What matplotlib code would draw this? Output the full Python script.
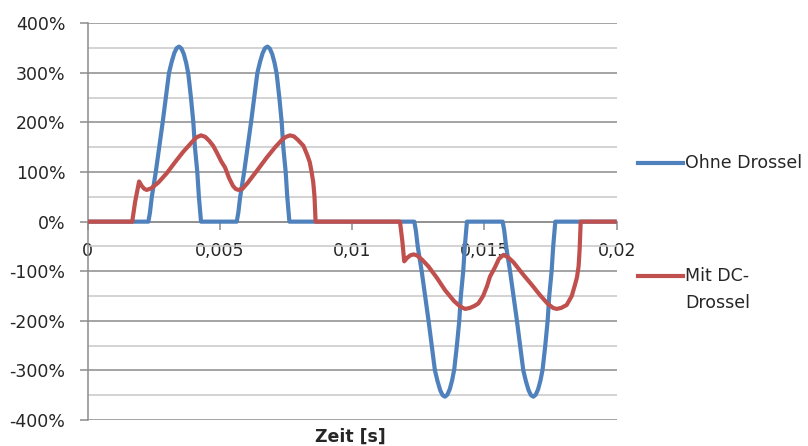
import matplotlib
matplotlib.use("Agg")
import matplotlib.pyplot as plt
from matplotlib.lines import Line2D
from matplotlib.ticker import FuncFormatter, MultipleLocator

# ---- data (time in ms, current in %) ----
blue_t_ms = [0.0, 2.30, 2.36, 2.43, 2.58, 2.71, 2.84, 2.96, 3.08, 3.18, 3.28, 3.37, 3.46, 3.55, 3.64, 3.73, 3.81, 3.91, 4.00, 4.06, 4.15, 4.21, 4.29,
             5.64, 5.70, 5.77, 5.92, 6.05, 6.18, 6.30, 6.42, 6.52, 6.62, 6.71, 6.80, 6.89, 6.98, 7.07, 7.15, 7.25, 7.34, 7.40, 7.49, 7.55, 7.63,
             12.35, 12.41, 12.48, 12.63, 12.76, 12.89, 13.01, 13.13, 13.23, 13.33, 13.42, 13.51, 13.60, 13.69, 13.78, 13.86, 13.96, 14.05, 14.11, 14.20, 14.26, 14.34,
             15.69, 15.75, 15.82, 15.97, 16.10, 16.23, 16.35, 16.47, 16.57, 16.67, 16.76, 16.85, 16.94, 17.03, 17.12, 17.20, 17.30, 17.39, 17.45, 17.54, 17.60, 17.68,
             20.0]
blue_pct = [0, 0, 18, 50, 100, 150, 200, 250, 300, 322, 340, 350, 353, 349, 338, 320, 298, 250, 200, 150, 100, 50, 0,
            0, 18, 50, 100, 150, 200, 250, 300, 322, 340, 350, 353, 349, 338, 320, 298, 250, 200, 150, 100, 50, 0,
            0, -18, -50, -100, -150, -200, -250, -300, -322, -340, -350, -353, -349, -338, -320, -298, -250, -200, -150, -100, -50, 0,
            0, -18, -50, -100, -150, -200, -250, -300, -322, -340, -350, -353, -349, -338, -320, -298, -250, -200, -150, -100, -50, 0,
            0]

red_t_ms = [0.0, 1.69, 1.80, 1.95, 2.05, 2.15, 2.24, 2.40, 2.68, 3.00, 3.31, 3.62, 3.94, 4.12, 4.29, 4.45, 4.60, 4.75, 4.90, 5.05, 5.20,
            5.35, 5.50, 5.60, 5.70, 5.85, 6.05, 6.25, 6.45, 6.77, 7.09, 7.35, 7.50, 7.65, 7.80, 7.95, 8.16, 8.30, 8.40, 8.47, 8.53, 8.58, 8.62,
            11.81, 11.90, 11.97, 12.08, 12.20, 12.32, 12.45, 12.65, 12.88, 13.20, 13.51, 13.85, 14.08, 14.27, 14.45, 14.62, 14.77, 14.95, 15.10,
            15.21, 15.40, 15.55, 15.72, 15.90, 16.10, 16.47, 16.80, 17.10, 17.40, 17.60, 17.73, 17.90, 18.11, 18.30, 18.42, 18.50, 18.56, 18.60,
            18.64, 20.0]
red_pct = [0, 0, 40, 81, 72, 66, 64, 67, 79, 98, 120, 141, 160, 170, 174, 171, 163, 153, 138, 122, 109,
           88, 72, 66, 64, 66, 78, 92, 106, 129, 150, 165, 171, 174, 172, 165, 153, 135, 120, 100, 80, 50, 0,
           0, -40, -80, -73, -68, -66, -68, -77, -90, -113, -138, -160, -171, -176, -174, -170, -165, -150, -130,
           -111, -92, -75, -67, -72, -82, -107, -128, -148, -166, -174, -176, -174, -168, -150, -128, -112, -90, -55,
           0, 0]

x_ticks = [0, 0.005, 0.01, 0.015, 0.02]
x_tick_labels = ["0", "0,005", "0,01", "0,015", "0,02"]
legend_lines = [["Ohne Drossel"], ["Mit DC-", "Drossel"]]

BLUE = "#4F81BD"
RED = "#C0504D"
TXT = '#262626'

plt.rcParams['font.family'] = ['DejaVu Sans']

W, H = 808, 446
fig = plt.figure(figsize=(W / 100, H / 100), dpi=100)
ax = fig.add_axes([87.5 / W, 1 - 420 / H, (616.7 - 87.5) / W, (420 - 23.3) / H])

blue_t = [t / 1000 for t in blue_t_ms]
red_t = [t / 1000 for t in red_t_ms]

ax.plot(blue_t, blue_pct, color=BLUE, lw=3.0, solid_joinstyle='round', solid_capstyle='butt', zorder=3)
ax.plot(red_t, red_pct, color=RED, lw=3.0, solid_joinstyle='round', solid_capstyle='butt', zorder=4)

ax.set_xlim(0, 0.02)
ax.set_ylim(-400, 400)

ax.yaxis.set_major_locator(MultipleLocator(100))
ax.yaxis.set_minor_locator(MultipleLocator(50))
ax.yaxis.set_major_formatter(FuncFormatter(lambda v, p: f"{int(round(v))}%"))
ax.grid(True, axis='y', which='major', color='#8c8c8c', lw=1.1, zorder=0)
ax.grid(True, axis='y', which='minor', color='#c8c8c8', lw=1.1, zorder=0)
ax.set_axisbelow(True)

ax.set_xticks(x_ticks)
ax.set_xticklabels(x_tick_labels)

for s in ['top', 'right']:
    ax.spines[s].set_visible(False)
ax.spines['bottom'].set_position(('data', 0))
ax.spines['bottom'].set_color('#8c8c8c')
ax.spines['left'].set_color('#8c8c8c')
ax.spines['left'].set_linewidth(1.1)
ax.spines['bottom'].set_linewidth(1.1)

ax.tick_params(axis='y', which='major', direction='out', length=6, width=1.1, color='#8c8c8c',
               pad=10, labelsize=12.5, labelcolor=TXT)
ax.tick_params(axis='y', which='minor', length=0)
ax.tick_params(axis='x', direction='out', length=6, width=1.1, color='#8c8c8c',
               pad=9, labelsize=12.5, labelcolor=TXT)

fig.text(350 / W, 1 - 428 / H, "Zeit [s]", ha='center', va='top', fontsize=12.5,
         fontweight='bold', color=TXT)

# legend (manual)
legend_y = [163, 276]
for color, y, lines in zip([BLUE, RED], legend_y, legend_lines):
    fig.add_artist(Line2D([638 / W, 683 / W], [1 - y / H, 1 - y / H], color=color, lw=3.0,
                          transform=fig.transFigure))
    for i, line in enumerate(lines):
        fig.text(685 / W, 1 - (y + i * 27) / H, line, ha='left', va='center',
                 fontsize=12.5, color=TXT)

fig.savefig("out.png", dpi=100)
